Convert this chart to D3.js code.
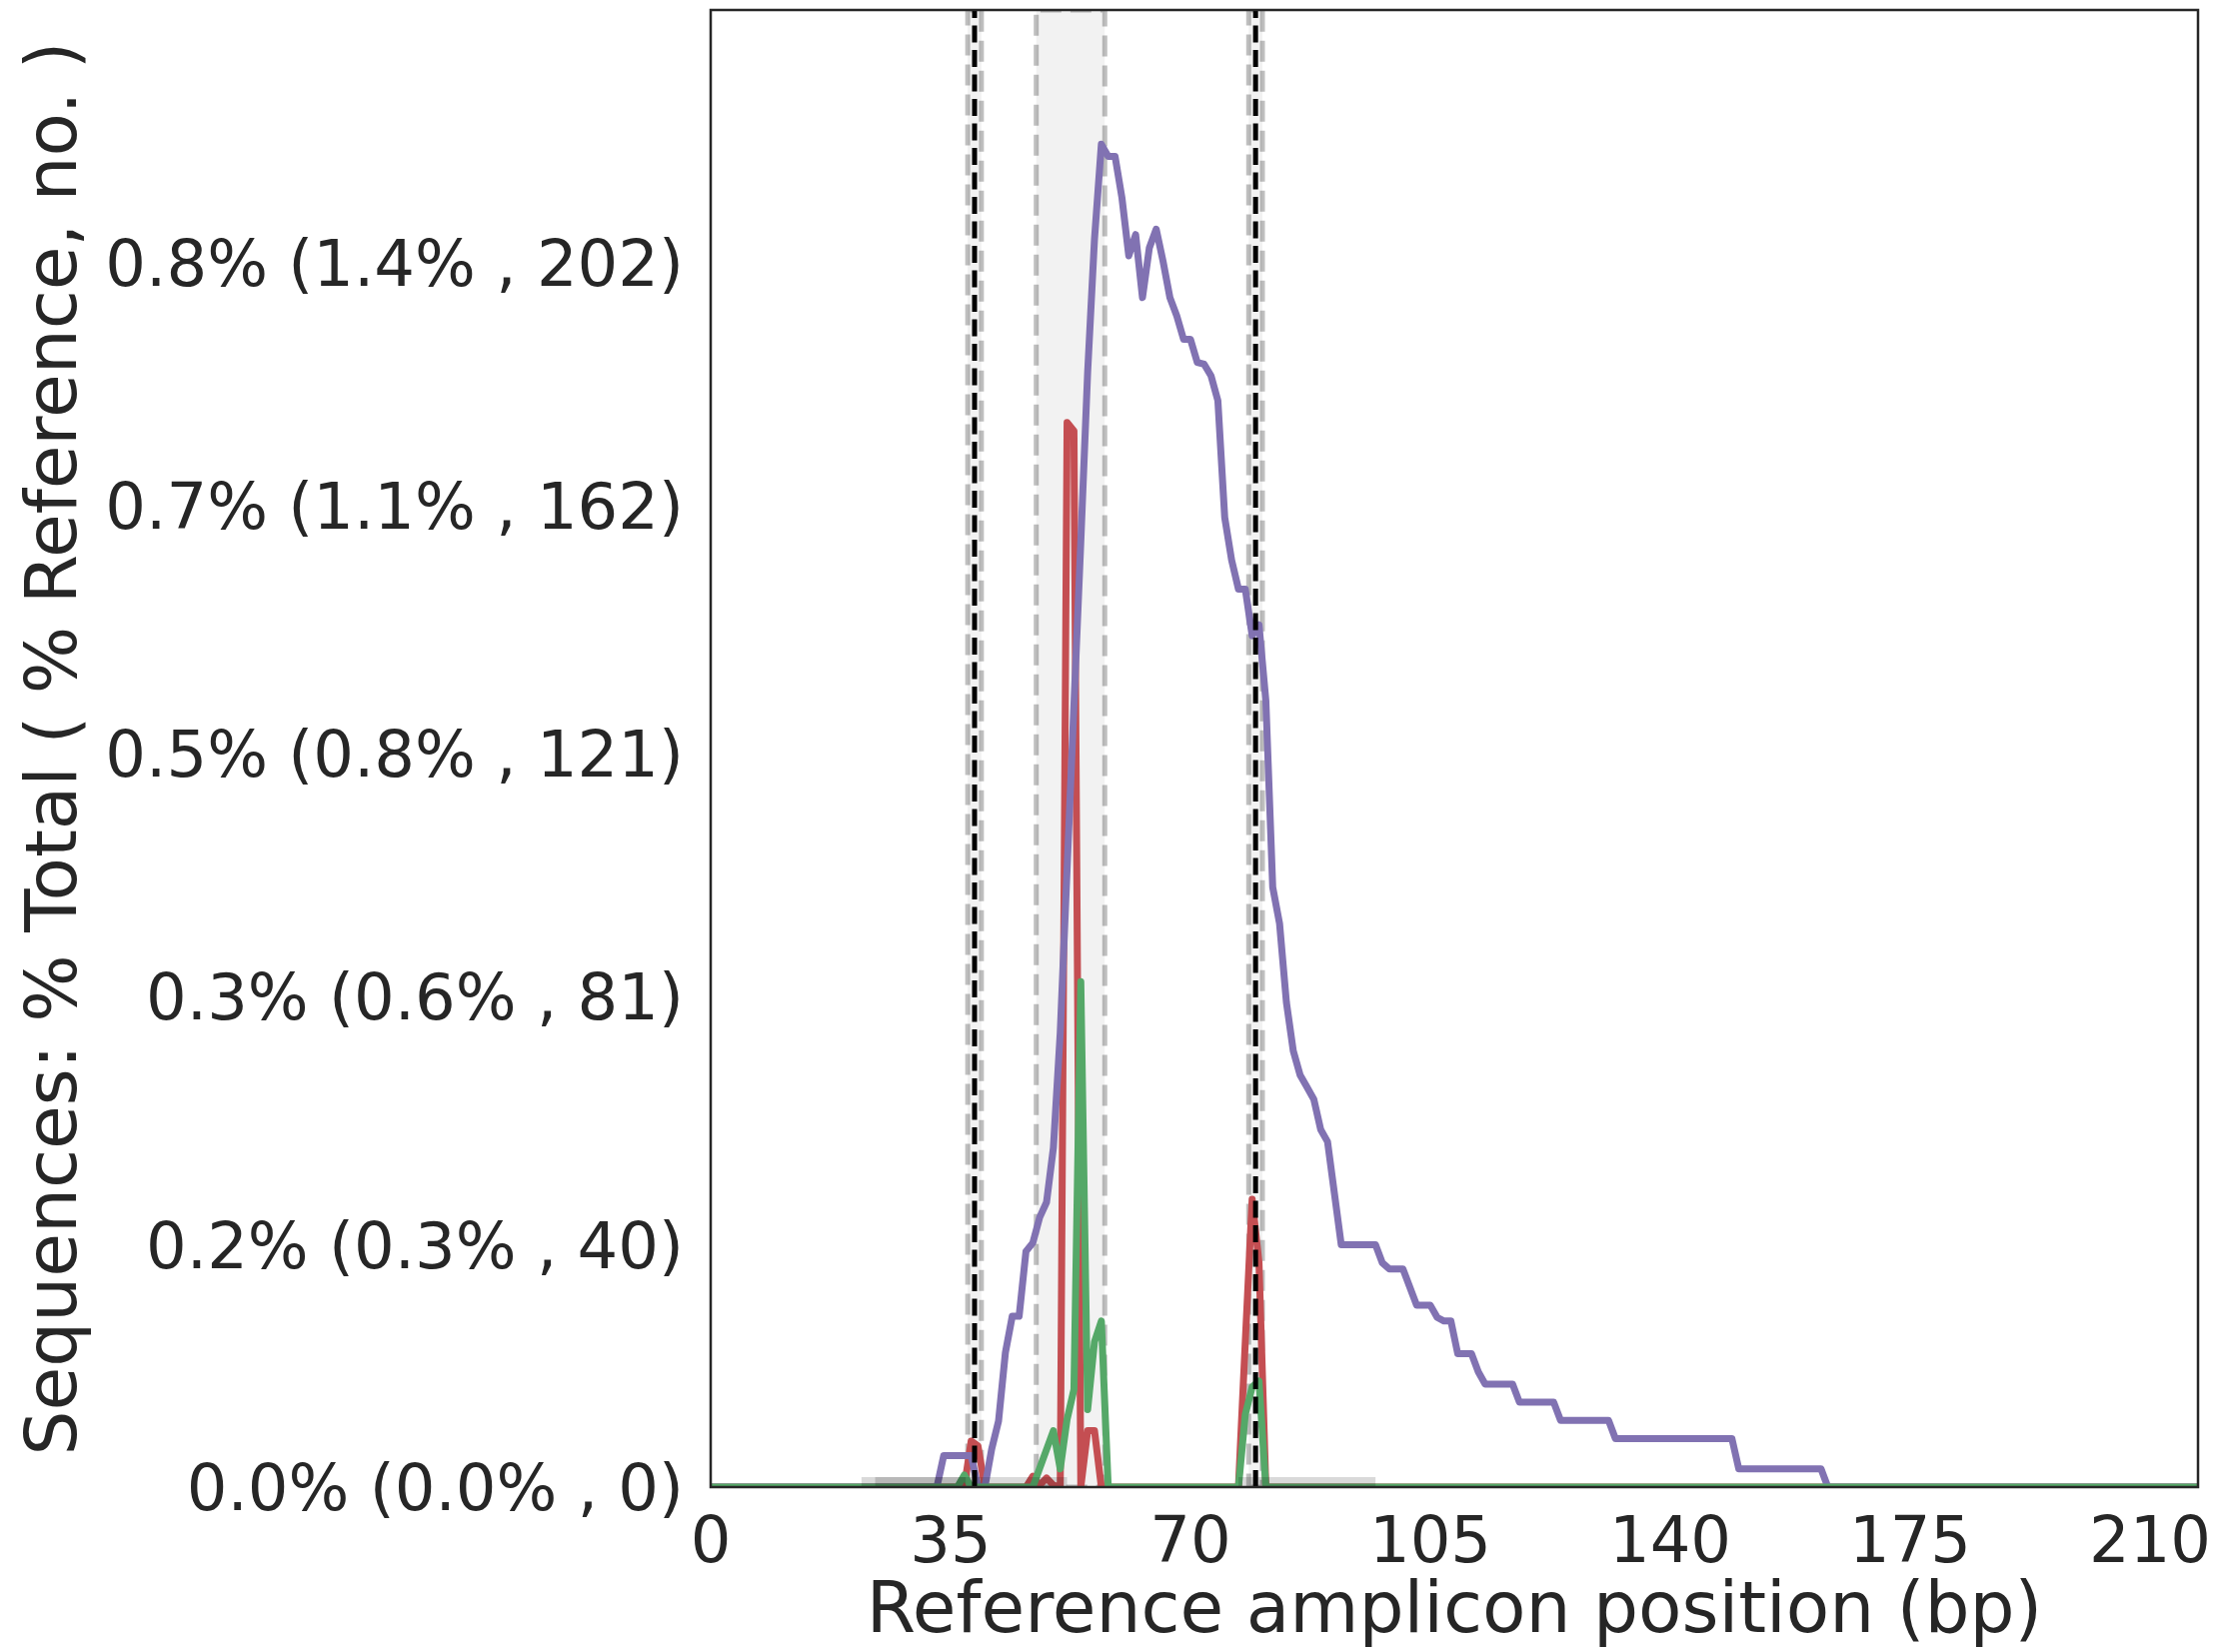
<!DOCTYPE html>
<html>
<head>
<meta charset="utf-8">
<script src="https://cdn.jsdelivr.net/npm/d3@7"></script>
<style>
  body { margin: 0; background: #fff; }
  svg { display: block; font-family: "DejaVu Sans", sans-serif; }
</style>
</head>
<body>
<svg id="chart" width="2221" height="1653"></svg>
<script>
// breakpoints [amplicon position, read count]
const insertions = [
    [0, 0], [37, 0], [38, 7.6], [39, 6.8], [40, 0], [46, 0], [47, 1.8], [48, 0.3], [49, 1.5],
    [50, 0.3], [51, 0], [52, 175.7], [53, 174.3], [54, 0], [55, 9.3], [56, 9.3], [57, 0],
    [77, 0], [78, 24], [79, 47.5], [80, 37], [81, 0], [217, 0]
];

const deletions = [
    [0, 0], [33, 0], [34, 5.2], [38, 5.2], [39, 0], [40, 0], [41, 6.3], [42, 10.9], [43, 22.2],
    [44, 28.2], [45, 28.2], [46, 38.9], [47, 40.3], [48, 44.5], [49, 47], [50, 56], [51, 75],
    [52, 102], [53, 129], [54, 156], [55, 184], [56, 206], [57, 221.6], [58, 219.6], [59, 219.6],
    [60, 212.8], [61, 203.2], [62, 206.7], [63, 196.3], [64, 204.5], [65, 207.6], [66, 202.3],
    [67, 196.3], [68, 193.3], [69, 189.4], [70, 189.4], [71, 185.6], [72, 185.3], [73, 183.4],
    [74, 179.3], [75, 160], [76, 153], [77, 148.2], [78, 148.2], [79, 140.5], [80, 142.3],
    [81, 129.8], [82, 99], [83, 93], [84, 80], [85, 72], [86, 68], [87, 66], [88, 64], [89, 59],
    [90, 57], [92, 40], [97, 40], [98, 37], [99, 36], [101, 36], [103, 30], [105, 30], [106, 28],
    [107, 27.4], [108, 27.4], [109, 22], [111, 22], [112, 19], [113, 17], [117, 17], [118, 14],
    [123, 14], [124, 11], [131, 11], [132, 8], [149, 8], [150, 3], [162, 3], [163, 0], [217, 0]
];

const substitutions = [
    [0, 0], [36, 0], [37, 2], [38, 0], [47, 0], [50, 9.3], [51, 3], [52, 11.2], [53, 16.1],
    [54, 83.4], [55, 12.8], [56, 24], [57, 27.4], [58, 0], [77, 0], [78, 12], [79, 16.5],
    [80, 17.5], [81, 0], [217, 0]
];

const cutPoints = [38, 79];
const quantWindows = [[38, 39], [48, 57], [79, 80]];
const sgRNAs = [[22, 52], [24, 37.2], [77, 97]];

const xTicks = [0, 35, 70, 105, 140, 175, 210];
const yTicks = [0, 40, 81, 121, 162, 202];
const yTickLabels = [
    "0.0% (0.0% , 0)", "0.2% (0.3% , 40)", "0.3% (0.6% , 81)",
    "0.5% (0.8% , 121)", "0.7% (1.1% , 162)", "0.8% (1.4% , 202)"
];

const ampliconLength = 217;
const yMax = 221.6 * 1.1;

const svg = d3.select("#chart");
const margin = { left: 711, top: 10, right: 22, bottom: 165 };
const width = 2221 - margin.left - margin.right;
const height = 1653 - margin.top - margin.bottom;
const textColor = "#262626";

const x = d3.scaleLinear().domain([0, ampliconLength]).range([0, width]);
const y = d3.scaleLinear().domain([0, yMax]).range([height, 0]);

const g = svg.append("g")
    .attr("transform", `translate(${margin.left},${margin.top})`);

g.append("clipPath").attr("id", "plot-clip")
    .append("rect").attr("width", width).attr("height", height);

const plot = g.append("g").attr("clip-path", "url(#plot-clip)");

// quantification windows (dashed edged boxes)
plot.selectAll(".window")
    .data(quantWindows)
    .join("path")
    .attr("class", "window")
    .attr("d", d => {
        const x0 = x(d[0] - 0.5), x1 = x(d[1] + 0.5);
        return `M${x0},${y(0)}L${x1},${y(0)}L${x1},${y(yMax)}L${x0},${y(yMax)}Z`;
    })
    .attr("fill", "rgba(0,0,0,0.05)")
    .attr("stroke", "rgba(0,0,0,0.25)")
    .attr("stroke-width", 5)
    .attr("stroke-dasharray", "21 9");

const line = d3.line()
    .x(d => x(d[0]))
    .y(d => y(d[1]));

const series = [
    { name: "insertions", values: insertions, color: "#c44e52" },
    { name: "deletions", values: deletions, color: "#8172b2" },
    { name: "substitutions", values: substitutions, color: "#55a868" }
];

plot.selectAll(".series")
    .data(series)
    .join("path")
    .attr("class", "series")
    .attr("d", d => line(d.values))
    .attr("fill", "none")
    .attr("stroke", d => d.color)
    .attr("stroke-width", 7)
    .attr("stroke-linejoin", "round");

// predicted cleavage positions
plot.selectAll(".cut")
    .data(cutPoints)
    .join("line")
    .attr("class", "cut")
    .attr("x1", d => x(d + 0.5))
    .attr("x2", d => x(d + 0.5))
    .attr("y1", y(0))
    .attr("y2", y(yMax))
    .attr("stroke", "#000")
    .attr("stroke-width", 5)
    .attr("stroke-dasharray", "17 7.5");

// sgRNA bars sitting on the x axis
plot.selectAll(".sgrna")
    .data(sgRNAs)
    .join("line")
    .attr("class", "sgrna")
    .attr("x1", d => x(d[0]))
    .attr("x2", d => x(d[1]))
    .attr("y1", y(0))
    .attr("y2", y(0))
    .attr("stroke", "rgba(0,0,0,0.15)")
    .attr("stroke-width", 20);

// frame
g.append("rect")
    .attr("width", width)
    .attr("height", height)
    .attr("fill", "none")
    .attr("stroke", textColor)
    .attr("stroke-width", 2.5);

g.append("g")
    .selectAll("text")
    .data(xTicks)
    .join("text")
    .attr("x", d => x(d))
    .attr("y", height + 75)
    .attr("text-anchor", "middle")
    .attr("font-size", 64)
    .attr("fill", textColor)
    .text(d => d);

g.append("g")
    .selectAll("text")
    .data(yTicks)
    .join("text")
    .attr("x", -27)
    .attr("y", d => y(d))
    .attr("dy", "0.36em")
    .attr("text-anchor", "end")
    .attr("font-size", 64)
    .attr("fill", textColor)
    .text((d, i) => yTickLabels[i]);

g.append("text")
    .attr("x", width / 2)
    .attr("y", height + 145)
    .attr("text-anchor", "middle")
    .attr("font-size", 71)
    .attr("fill", textColor)
    .text("Reference amplicon position (bp)");

svg.append("text")
    .attr("transform", `translate(76,${margin.top + height / 2}) rotate(-90)`)
    .attr("text-anchor", "middle")
    .attr("font-size", 71)
    .attr("fill", textColor)
    .text("Sequences: % Total ( % Reference, no. )");
</script>
</body>
</html>
